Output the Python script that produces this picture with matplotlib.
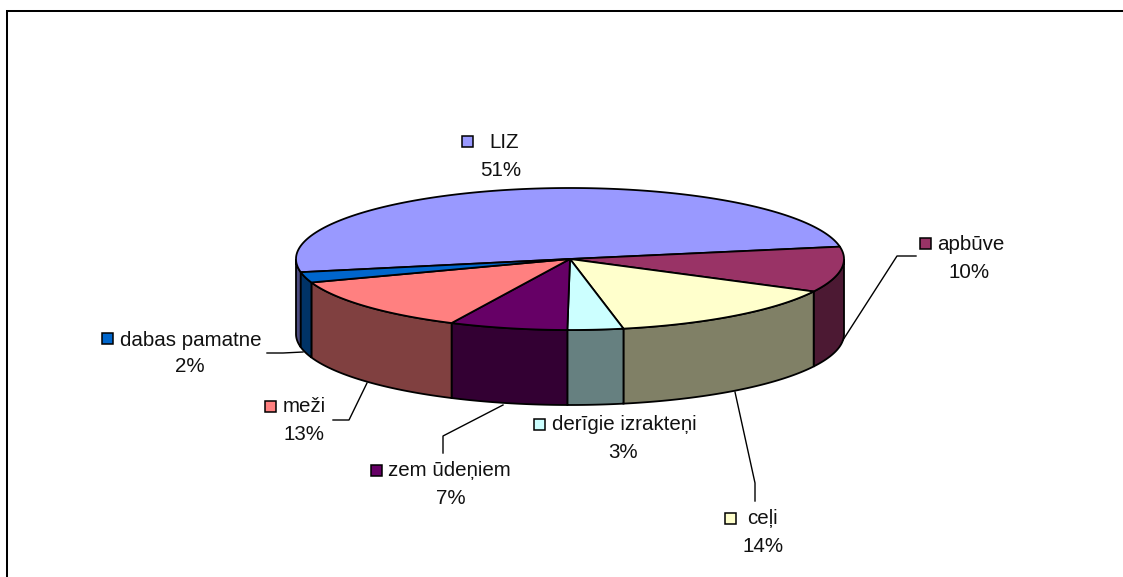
import numpy as np
import matplotlib
matplotlib.use("Agg")
import matplotlib.pyplot as plt
from matplotlib.patches import Polygon, Rectangle

plt.rcParams['font.family'] = ['Liberation Sans', 'DejaVu Sans']

categories = ["LIZ", "apbūve", "ceļi", "derīgie izrakteņi", "zem ūdeņiem", "meži", "dabas pamatne"]
values = [50.5, 10.4, 14.4, 3.3, 7.0, 12.6, 2.4]
percent_labels = ["51%", "10%", "14%", "3%", "7%", "13%", "2%"]
top_colors = ["#9999FF", "#993366", "#FFFFCC", "#CCFFFF", "#660066", "#FF8080", "#0066CC"]
side_colors = ["#4C4C80", "#4C1933", "#808066", "#668080", "#330033", "#804040", "#003366"]

W, H = 1123, 577
fig = plt.figure(figsize=(W / 100, H / 100), dpi=100)
ax = fig.add_axes([0, 0, 1, 1])
ax.set_xlim(0, W)
ax.set_ylim(H, 0)
ax.axis("off")

# Frame: left and top edges only are visible
ax.plot([7, 7, W + 5], [H + 5, 11, 11], color="black", lw=1.45, solid_joinstyle="miter")

# Pie geometry
cx, cy, rx, ry, depth = 570, 259, 274, 71, 75
end_of_first = 10.0  # angle where the first slice ends, slices run clockwise

fracs = np.array(values) / sum(values)
start = end_of_first + fracs[0] * 360
bounds = start - np.concatenate([[0], np.cumsum(fracs) * 360])


def arc(a0, a1, n=80):
    t = np.radians(np.linspace(a0, a1, n))
    return cx + rx * np.cos(t), cy - ry * np.sin(t)


# Side walls (only the front half of the ellipse is visible)
for i in range(len(values)):
    hi, lo = bounds[i], bounds[i + 1]
    for shift in (0, -360, 360):
        lo2, hi2 = max(lo + shift, -180), min(hi + shift, 0)
        if hi2 > lo2:
            x, y = arc(lo2, hi2)
            pts = np.r_[np.c_[x, y], np.c_[x[::-1], y[::-1] + depth]]
            ax.add_patch(Polygon(pts, closed=True, facecolor=side_colors[i],
                                 edgecolor="black", lw=1.3, zorder=2))

# Top faces
for i in range(len(values)):
    x, y = arc(bounds[i], bounds[i + 1], 200)
    pts = np.r_[[[cx, cy]], np.c_[x, y]]
    ax.add_patch(Polygon(pts, closed=True, facecolor=top_colors[i],
                         edgecolor="black", lw=1.3, zorder=3, joinstyle="round"))

# Labels: marker centre, name start, percent centre
label_pos = {
    "LIZ": ((467, 141), (489, 142), (501, 170)),
    "apbūve": ((925, 243), (937, 244), (969, 272)),
    "ceļi": ((730, 518), (747, 519), (763, 546)),
    "derīgie izrakteņi": ((539, 424), (552, 425), (623, 452)),
    "zem ūdeņiem": ((376, 470), (388, 471), (451, 498)),
    "meži": ((270, 406), (283, 407), (304, 434)),
    "dabas pamatne": ((107, 338), (120, 340), (190, 367)),
}
FS = 14.8
for i, name in enumerate(categories):
    m, t, p = label_pos[name]
    ax.add_patch(Rectangle((m[0] - 5.5, m[1] - 5.5), 11, 11, facecolor=top_colors[i],
                           edgecolor="black", lw=1.1, zorder=5))
    ax.text(t[0], t[1], name, fontsize=FS, ha="left", va="center", color="#111111", zorder=5)
    ax.text(p[0], p[1], percent_labels[i], fontsize=FS, ha="center", va="center",
            color="#111111", zorder=5)

# Leader lines
leaders = [
    ([843, 897, 916], [340, 256, 256]),
    ([735, 755, 755], [392, 483, 501]),
    ([503, 443, 443], [405, 436, 453]),
    ([367, 349, 333], [383, 420, 420]),
    ([303, 283, 267], [352, 353, 353]),
]
for xs, ys in leaders:
    ax.plot(xs, ys, color="black", lw=1.0, zorder=1)

fig.savefig("out.png", dpi=100, facecolor="white")
